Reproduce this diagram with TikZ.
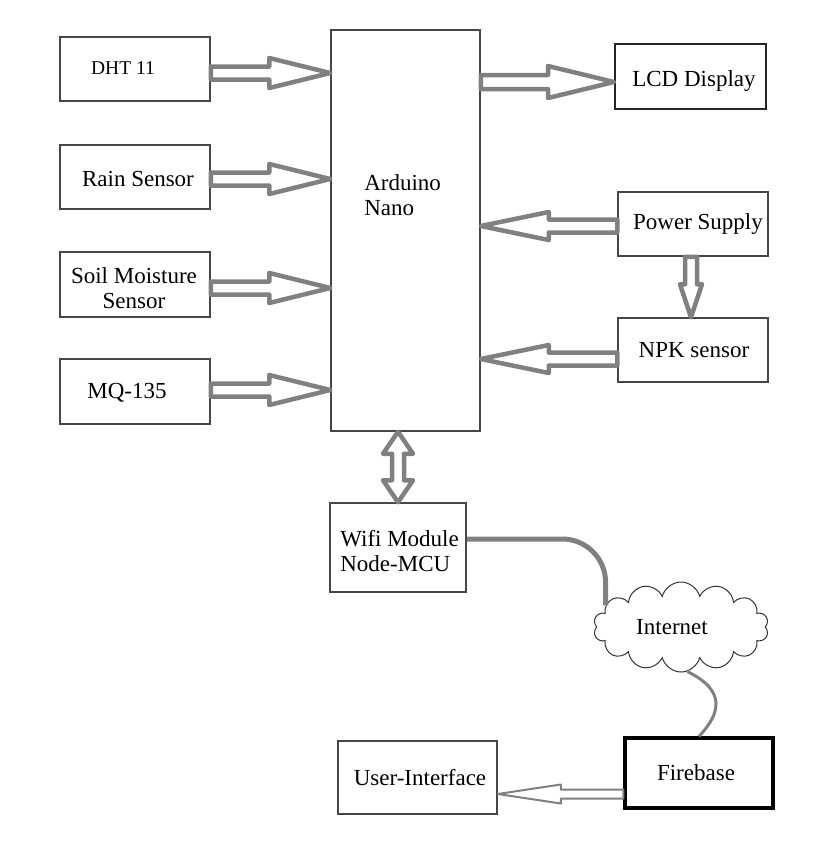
\documentclass[tikz,border=0pt]{standalone}
\usepackage{fontspec}
\setmainfont{Liberation Serif}
\usetikzlibrary{calc,fit,shapes.symbols}

\newcommand{\unitpx}{0.6pt}
\definecolor{arrowgray}{RGB}{128,128,128}
\definecolor{boxgray}{RGB}{70,70,70}

\tikzset{
  box/.style={draw=boxgray, line width=0.9pt, inner sep=0pt},
  txt/.style={inner sep=0pt},
  hollow/.style n args={3}{color=arrowgray, line width=2.7pt, line join=round,
    to path={let \p1=($(\tikztotarget)-(\tikztostart)$), \n1={veclen(\x1,\y1)}, \n2={atan2(\y1,\x1)} in
      [shift={(\tikztostart)}, rotate=\n2]
      (0pt,#3*\unitpx) -- (\n1-#1*\unitpx,#3*\unitpx) -- (\n1-#1*\unitpx,#2*\unitpx) -- (\n1,0pt)
      -- (\n1-#1*\unitpx,-#2*\unitpx) -- (\n1-#1*\unitpx,-#3*\unitpx) -- (0pt,-#3*\unitpx) -- cycle}},
  hollowboth/.style n args={3}{color=arrowgray, line width=2.7pt, line join=round,
    to path={let \p1=($(\tikztotarget)-(\tikztostart)$), \n1={veclen(\x1,\y1)}, \n2={atan2(\y1,\x1)} in
      [shift={(\tikztostart)}, rotate=\n2]
      (#1*\unitpx,#3*\unitpx) -- (\n1-#1*\unitpx,#3*\unitpx) -- (\n1-#1*\unitpx,#2*\unitpx) -- (\n1,0pt)
      -- (\n1-#1*\unitpx,-#2*\unitpx) -- (\n1-#1*\unitpx,-#3*\unitpx) -- (#1*\unitpx,-#3*\unitpx)
      -- (#1*\unitpx,-#2*\unitpx) -- (0pt,0pt) -- (#1*\unitpx,#2*\unitpx) -- cycle}}
}

\begin{document}
\begin{tikzpicture}[x=\unitpx, y=-\unitpx, font=\fontsize{13.8}{15}\selectfont]
  \useasboundingbox (0,0) rectangle (836,865);
  % eleven boxes
  \node[box, fit={(60,37) (210,101)}] (dht) {};
  \node[box, fit={(60,145) (210,209)}] (rain) {};
  \node[box, fit={(60,252) (210,317)}] (soil) {};
  \node[box, fit={(60,359) (210,424)}] (mq) {};
  \node[box, fit={(331,30) (480,431)}] (nano) {};
  \node[box, draw=black!85, line width=1.2pt, fit={(615,44) (766,109)}] (lcd) {};
  \node[box, fit={(618,192) (768,256)}] (power) {};
  \node[box, fit={(618,318) (768,382)}] (npk) {};
  \node[box, fit={(330,503) (466,592)}] (wifi) {};
  \node[box, fit={(338,741) (497,814)}] (ui) {};
  \node[box, draw=black, line width=2pt, fit={(625,738) (773,808)}] (fire) {};
  % one cloud
  \node[draw=black!80, line width=0.6pt, cloud, cloud puffs=14, aspect=2,
    minimum width=175*\unitpx, minimum height=90*\unitpx, inner sep=0pt] (net) at (681,627) {};
  % ten arrows
  \draw[hollow={61}{15}{6.5}] (dht.east |- 0,73) to (nano.west |- 0,73);
  \draw[hollow={61}{15}{6.5}] (rain.east |- 0,179) to (nano.west |- 0,179);
  \draw[hollow={61}{15}{6.5}] (soil.east |- 0,288) to (nano.west |- 0,288);
  \draw[hollow={61}{15}{6.5}] (mq.east |- 0,390) to (nano.west |- 0,390);
  \draw[hollow={66}{16}{7}] (nano.east |- 0,82) to (lcd.west |- 0,82);
  \draw[hollow={68}{14}{6.5}] (power.west |- 0,226) to (nano.east |- 0,226);
  \draw[hollow={68}{14}{6.5}] (npk.west |- 0,359) to (nano.east |- 0,359);
  \draw[hollow={33}{11}{6}] (power.south -| 691,0) to (npk.north -| 691,0);
  \draw[hollowboth={22}{15}{6}] (wifi.north -| 398,0) to (nano.south -| 398,0);
  \draw[hollow={63}{9.5}{4.5}, line width=1.2pt] (fire.west |- 0,794) to (ui.east |- 0,794);
  % two cables
  \draw[arrowgray, line width=3pt, rounded corners=26pt] (wifi.east |- 0,539) -| (net.164);
  \draw[arrowgray, line width=1.8pt] (net.278) .. controls (725,690) and (722,712) .. (fire.north);
  % text
  \node[txt, anchor=base, font=\fontsize{11.7}{14}\selectfont] (dhttxt) at (123,74) {DHT 11};
  \node[txt, anchor=base] (raintxt) at (138,186) {Rain Sensor};
  \node[txt, align=center] (soiltxt) at (134,288) {Soil Moisture\\Sensor};
  \node[txt, anchor=base] (mqtxt) at (127,398) {MQ-135};
  \node[txt, align=left, anchor=west] (nanotxt) at (364,195) {Arduino\\Nano};
  \node[txt, anchor=base] (lcdtxt) at (694,86) {LCD Display};
  \node[txt, anchor=base] (powertxt) at (698,229) {Power Supply};
  \node[txt, anchor=base] (npktxt) at (694,357) {NPK sensor};
  \node[txt, align=left, anchor=west] (wifitxt) at (340,551) {Wifi Module\\Node-MCU};
  \node[txt, anchor=base] (nettxt) at (672,634) {Internet};
  \node[txt, anchor=base] (firetxt) at (696,780) {Firebase};
  \node[txt, anchor=base] (uitxt) at (420,785) {User-Interface};
\end{tikzpicture}
\end{document}
